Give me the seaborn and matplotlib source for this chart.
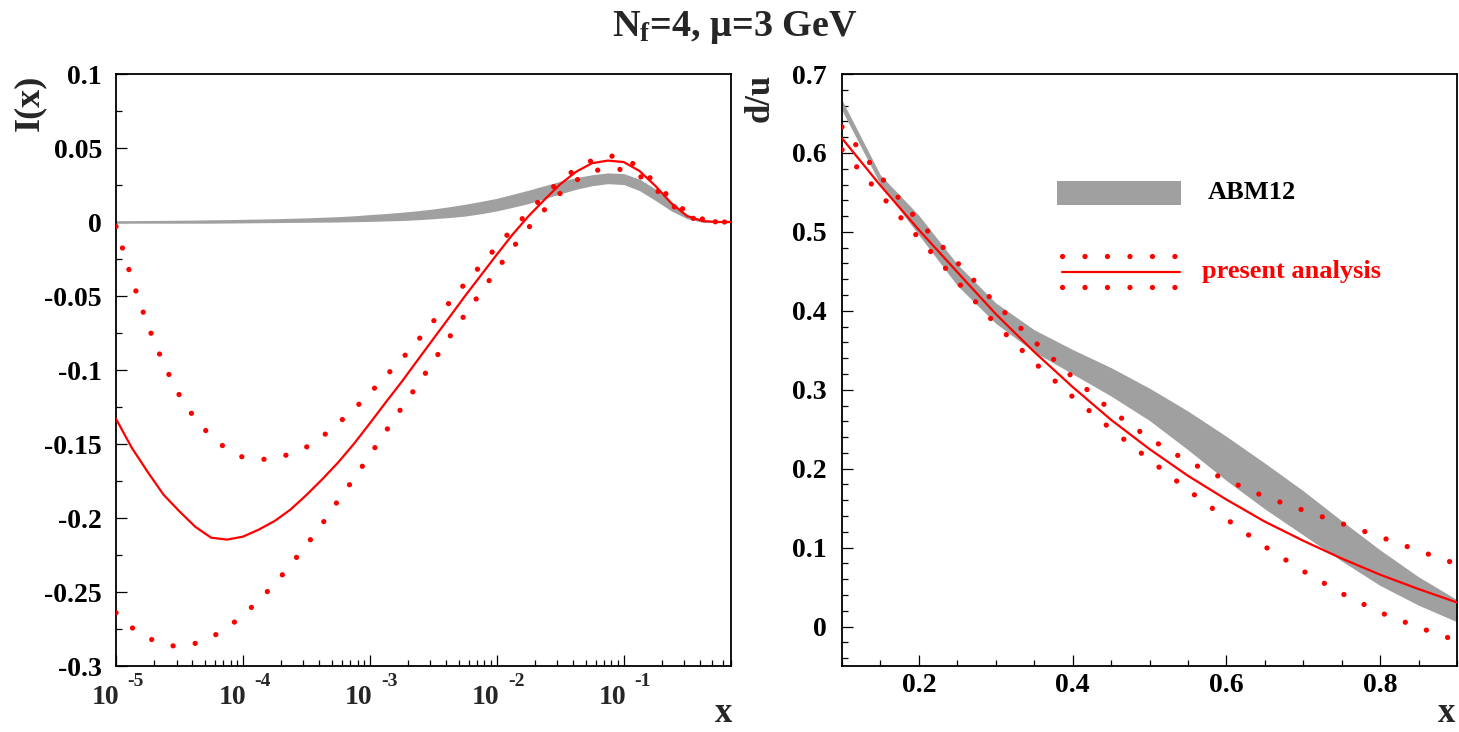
import numpy as np
import pandas as pd
import matplotlib
matplotlib.use("Agg")
import matplotlib.pyplot as plt
import seaborn as sns
from matplotlib.ticker import MultipleLocator, LogLocator, FuncFormatter, NullFormatter
from matplotlib.patches import Rectangle

# ---------------- data: left panel, I(x) vs x (log scale, 1/8-decade grid) ----------------
x_left = [1.00e-5, 1.33e-5, 1.78e-5, 2.37e-5, 3.16e-5, 4.22e-5, 5.62e-5, 7.50e-5,
          1.00e-4, 1.33e-4, 1.78e-4, 2.37e-4, 3.16e-4, 4.22e-4, 5.62e-4, 7.50e-4,
          1.00e-3, 1.33e-3, 1.78e-3, 2.37e-3, 3.16e-3, 4.22e-3, 5.62e-3, 7.50e-3,
          1.00e-2, 1.33e-2, 1.78e-2, 2.37e-2, 3.16e-2, 4.22e-2, 5.62e-2, 7.50e-2,
          0.100, 0.133, 0.178, 0.237, 0.316, 0.422, 0.562, 0.700]
abm_left_low = [-0.0008, -0.0008, -0.0008, -0.0008, -0.0008, -0.0008, -0.0008, -0.0007,
                -0.0006, -0.0005, -0.0004, -0.0003, -0.0002, -0.0001, 0.0000, 0.0002,
                0.0004, 0.0007, 0.0010, 0.0015, 0.0022, 0.0030, 0.0040, 0.0056,
                0.0075, 0.0099, 0.0125, 0.0157, 0.0190, 0.0221, 0.0245, 0.0259,
                0.0253, 0.0212, 0.0145, 0.0075, 0.0022, -0.0003, -0.0004, -0.0004]
abm_left_high = [0.0008, 0.0009, 0.0010, 0.0011, 0.0012, 0.0013, 0.0015, 0.0016,
                 0.0018, 0.0020, 0.0022, 0.0025, 0.0028, 0.0032, 0.0036, 0.0042,
                 0.0050, 0.0057, 0.0066, 0.0076, 0.0088, 0.0103, 0.0120, 0.0139,
                 0.0160, 0.0187, 0.0215, 0.0245, 0.0275, 0.0300, 0.0319, 0.0332,
                 0.0327, 0.0290, 0.0223, 0.0135, 0.0050, 0.0012, 0.0004, 0.0004]
pa_left_central = [-0.133, -0.1525, -0.169, -0.1843, -0.1955, -0.2060, -0.2133, -0.2146,
                   -0.2126, -0.2079, -0.2020, -0.1943, -0.1845, -0.1738, -0.1625, -0.1498,
                   -0.1360, -0.1220, -0.1080, -0.0935, -0.0790, -0.0645, -0.0500, -0.0360,
                   -0.0220, -0.0085, 0.0040, 0.0150, 0.0255, 0.0340, 0.0397, 0.0415,
                   0.0405, 0.0345, 0.0243, 0.0127, 0.0040, 0.0006, 0.0, 0.0]
pa_left_upper = [-0.003, -0.0385, -0.0698, -0.0959, -0.1171, -0.1333, -0.1449, -0.1536,
                 -0.1590, -0.1605, -0.1600, -0.1566, -0.1521, -0.1450, -0.1360, -0.1265,
                 -0.1157, -0.1042, -0.0927, -0.0804, -0.0671, -0.0546, -0.0415, -0.0292,
                 -0.0166, -0.0047, 0.0068, 0.0180, 0.0280, 0.0359, 0.0416, 0.0449,
                 0.0433, 0.0367, 0.0263, 0.0153, 0.0064, 0.0018, 0.0, 0.0]
pa_left_lower = [-0.264, -0.274, -0.281, -0.2855, -0.287, -0.2847, -0.2807, -0.2742,
                 -0.2658, -0.2558, -0.2446, -0.2317, -0.2183, -0.2039, -0.1882, -0.1733,
                 -0.1576, -0.1416, -0.1256, -0.1103, -0.0942, -0.0780, -0.0625, -0.0475,
                 -0.0322, -0.0176, -0.0038, 0.0082, 0.0194, 0.0281, 0.0343, 0.0363,
                 0.0353, 0.0313, 0.0224, 0.0118, 0.0036, 0.0006, 0.0, 0.0]
log_tick_exponents = [-5, -4, -3, -2, -1]

# ---------------- data: right panel, d/u vs x ----------------
x_right = [0.10, 0.15, 0.20, 0.25, 0.30, 0.35, 0.40, 0.45, 0.50, 0.55, 0.60,
           0.65, 0.70, 0.75, 0.80, 0.85, 0.90]
abm_right_low = [0.654, 0.560, 0.496, 0.432, 0.384, 0.348, 0.320, 0.292, 0.261,
                 0.224, 0.185, 0.149, 0.116, 0.083, 0.052, 0.027, 0.006]
abm_right_high = [0.667, 0.572, 0.521, 0.459, 0.410, 0.376, 0.351, 0.328, 0.302,
                  0.273, 0.241, 0.207, 0.172, 0.134, 0.097, 0.063, 0.034]
pa_right_central = [0.6185, 0.5587, 0.5025, 0.449, 0.396, 0.348, 0.3035, 0.2619,
                    0.2248, 0.191, 0.1609, 0.1329, 0.1087, 0.0862, 0.0657, 0.0475, 0.0305]
pa_right_upper = [0.633, 0.570, 0.513, 0.461, 0.4091, 0.3614, 0.316, 0.2737, 0.2382,
                  0.209, 0.1856, 0.1645, 0.1473, 0.1305, 0.1136, 0.0961, 0.079]
pa_right_lower = [0.604, 0.5473, 0.492, 0.4369, 0.3831, 0.3347, 0.291, 0.2501, 0.2114,
                  0.1731, 0.1362, 0.1013, 0.0702, 0.042, 0.0178, -0.0011, -0.018]

title_text = r"$\mathbf{N_f}$=4, μ=3 GeV"
legend_labels = ["ABM12", "present analysis"]

# ---------------- style ----------------
sns.set_theme(style="white")
plt.rcParams["font.family"] = ["Liberation Serif", "DejaVu Serif"]
plt.rcParams["font.weight"] = "bold"
plt.rcParams["mathtext.fontset"] = "custom"
plt.rcParams["mathtext.rm"] = "Liberation Serif:bold"
plt.rcParams["mathtext.bf"] = "Liberation Serif:bold"
plt.rcParams["mathtext.it"] = "Liberation Serif:bold"
plt.rcParams["axes.unicode_minus"] = False

GRAY = "#a0a0a0"
RED = "#ff0000"
DOT_LW = 3.8
DOT_STYLE = (0, (0.01, 4.25))
TICK_FS = 20

fig = plt.figure(figsize=(14.59, 7.32), dpi=100)
axL = fig.add_axes([116 / 1459, 66 / 732, 615 / 1459, 592 / 732])
axR = fig.add_axes([842 / 1459, 66 / 732, 615 / 1459, 592 / 732])

dfL = pd.DataFrame({"x": x_left, "lo": abm_left_low, "hi": abm_left_high,
                    "c": pa_left_central, "u": pa_left_upper, "l": pa_left_lower})
dfR = pd.DataFrame({"x": x_right, "lo": abm_right_low, "hi": abm_right_high,
                    "c": pa_right_central, "u": pa_right_upper, "l": pa_right_lower})

for ax, df in ((axL, dfL), (axR, dfR)):
    ax.fill_between(df["x"], df["lo"], df["hi"], color=GRAY, lw=0, zorder=1)
    sns.lineplot(data=df, x="x", y="c", ax=ax, color=RED, lw=1.6, zorder=3)
    for col in ("u", "l"):
        sns.lineplot(data=df, x="x", y=col, ax=ax, color=RED, lw=DOT_LW,
                     linestyle=DOT_STYLE, dash_capstyle="round", zorder=3)
    ax.set_xlabel("")
    ax.set_ylabel("")
    for sp in ax.spines.values():
        sp.set_visible(True)
        sp.set_color("black")
        sp.set_linewidth(1.3)
    ax.tick_params(which="both", direction="in", top=False, right=False,
                   bottom=True, left=True, colors="black", labelsize=TICK_FS)
    ax.tick_params(which="major", length=8, width=0.9)
    ax.tick_params(which="minor", length=4.5, width=0.9)
    ax.grid(False)

# left axes scales
axL.set_xscale("log")
axL.set_xlim(1e-5, 0.7)
axL.set_ylim(-0.3, 0.1)
axL.xaxis.set_major_locator(LogLocator(base=10, numticks=10))
axL.xaxis.set_minor_locator(LogLocator(base=10, subs=np.arange(2, 10), numticks=100))
axL.xaxis.set_minor_formatter(NullFormatter())
axL.xaxis.set_major_formatter(NullFormatter())
axL.yaxis.set_major_locator(MultipleLocator(0.05))
axL.yaxis.set_minor_locator(MultipleLocator(0.025))
axL.yaxis.set_major_formatter(FuncFormatter(lambda v, p: "%g" % round(v, 3)))
axL.tick_params(axis="y", which="major", pad=10)
for e in log_tick_exponents:
    axL.annotate("10", xy=(10.0 ** e, 0), xycoords=("data", "axes fraction"),
                 xytext=(3, -31), textcoords="offset pixels", ha="right", va="center",
                 fontsize=20, fontweight="bold", annotation_clip=False)
    axL.annotate("%d" % e, xy=(10.0 ** e, 0), xycoords=("data", "axes fraction"),
                 xytext=(11, -15), textcoords="offset pixels", ha="left", va="center",
                 fontsize=14, fontweight="bold", annotation_clip=False)

# right axes scales
axR.set_xlim(0.1, 0.9)
axR.set_ylim(-0.05, 0.7)
axR.xaxis.set_major_locator(MultipleLocator(0.2))
axR.xaxis.set_minor_locator(MultipleLocator(0.05))
axR.yaxis.set_major_locator(MultipleLocator(0.1))
axR.yaxis.set_minor_locator(MultipleLocator(0.02))
axR.xaxis.set_major_formatter(FuncFormatter(lambda v, p: "%g" % round(v, 3)))
axR.yaxis.set_major_formatter(FuncFormatter(lambda v, p: "%g" % round(v, 3)))
axR.tick_params(axis="y", which="major", pad=11)
axR.tick_params(axis="x", which="major", pad=5)

for lab in axL.get_yticklabels() + axR.get_xticklabels() + axR.get_yticklabels():
    lab.set_fontweight("bold")

# legend (drawn in axes fraction coordinates)
axR.add_patch(Rectangle((0.3496, 0.7787), 0.2016, 0.0406, transform=axR.transAxes,
                        facecolor=GRAY, edgecolor="none", zorder=4))
axR.text(0.595, 0.799, legend_labels[0], transform=axR.transAxes, fontsize=19,
         fontweight="bold", color="black", ha="left", va="center")
axR.plot([0.3577, 0.5450], [0.6926, 0.6926], transform=axR.transAxes, color=RED,
         lw=DOT_LW, linestyle=DOT_STYLE, dash_capstyle="round", zorder=4)
axR.plot([0.3577, 0.5450], [0.6397, 0.6397], transform=axR.transAxes, color=RED,
         lw=DOT_LW, linestyle=DOT_STYLE, dash_capstyle="round", zorder=4)
axR.plot([0.3572, 0.5496], [0.666, 0.666], transform=axR.transAxes, color=RED,
         lw=1.6, zorder=4)
axR.text(0.585, 0.667, legend_labels[1], transform=axR.transAxes, fontsize=19,
         fontweight="bold", color=RED, ha="left", va="center")

# titles and axis labels
fig.text(735 / 1459, 1 - 27 / 732, title_text, ha="center", va="center",
         fontsize=27.5, fontweight="bold")
fig.text(30 / 1459, 1 - 75 / 732, "I(x)", rotation=90, ha="center", va="top",
         fontsize=26, fontweight="bold")
fig.text(760 / 1459, 1 - 74 / 732, "d/u", rotation=90, ha="center", va="top",
         fontsize=25, fontweight="bold")
fig.text(724 / 1459, 1 - 730 / 732, "x", ha="center", va="bottom",
         fontsize=25, fontweight="bold")
fig.text(1447 / 1459, 1 - 730 / 732, "x", ha="center", va="bottom",
         fontsize=25, fontweight="bold")

fig.savefig("out.png", dpi=100, facecolor="white")
